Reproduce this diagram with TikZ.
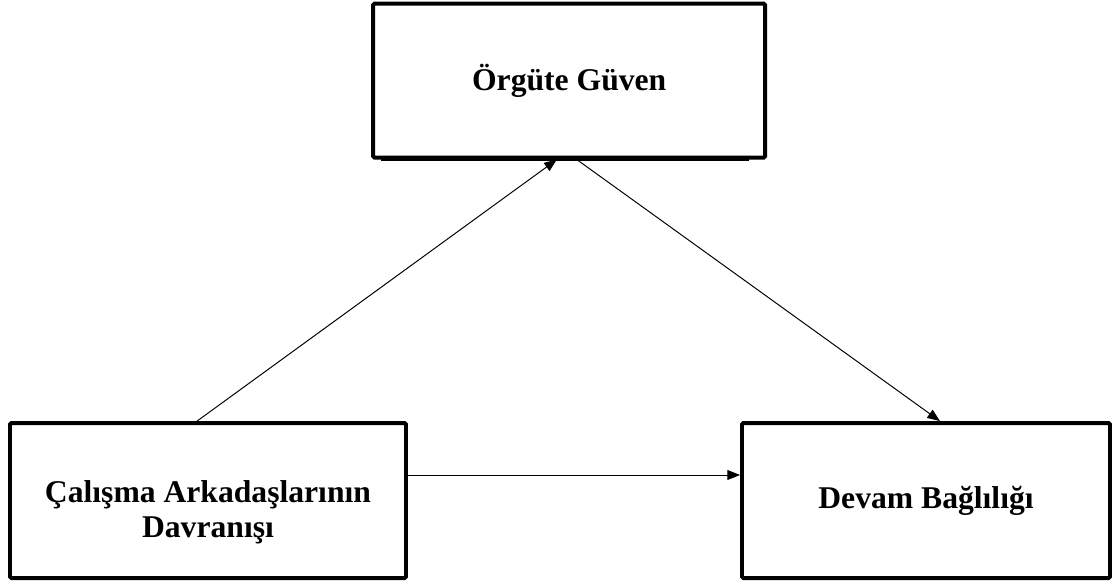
\documentclass[tikz,border=0pt]{standalone}
\usepackage{fontspec}
\setmainfont{Liberation Serif}
\usetikzlibrary{arrows.meta}

\tikzset{
    kutu/.style={draw, line width=2.8pt, rounded corners=1pt, align=center,
        font=\bfseries\fontsize{22.5}{25}\selectfont},
    yazi/.style={align=center, font=\bfseries\fontsize{22.5}{25}\selectfont},
    ok/.style={->, line width=0.7pt}
}

\begin{document}
\begin{tikzpicture}[>={Triangle[length=9pt,width=7pt]}]

    \useasboundingbox (0, 0) rectangle (27.8, 14.575);

    % Box at the top, with its thin shadow below
    \node[kutu, minimum width=9.8cm, minimum height=3.85cm] (guven) at (14.23, 12.56) {Örgüte Güven};
    \draw[line width=2pt] ([xshift=0.25cm, yshift=-0.01cm]guven.south west) -- ([xshift=-0.45cm, yshift=-0.01cm]guven.south east);

    % Boxes at the bottom
    \node[kutu, minimum width=9.9cm, minimum height=3.875cm] (calisma) at (5.2, 2.06) {};
    \node[yazi, yshift=-0.3cm] (calismayazi) at (calisma) {Çalışma Arkadaşlarının\\Davranışı};
    \node[kutu, minimum width=9.2cm, minimum height=3.875cm] (devam) at (23.15, 2.06) {Devam Bağlılığı};

    \draw[ok] ([xshift=-0.275cm]calisma.north) -- ([xshift=-0.31cm]guven.south);
    \draw[ok] ([xshift=0.19cm]guven.south) -- ([xshift=0.35cm]devam.north);
    \draw[ok] ([yshift=0.64cm]calisma.east) -- ([yshift=0.64cm]devam.west);

\end{tikzpicture}
\end{document}
